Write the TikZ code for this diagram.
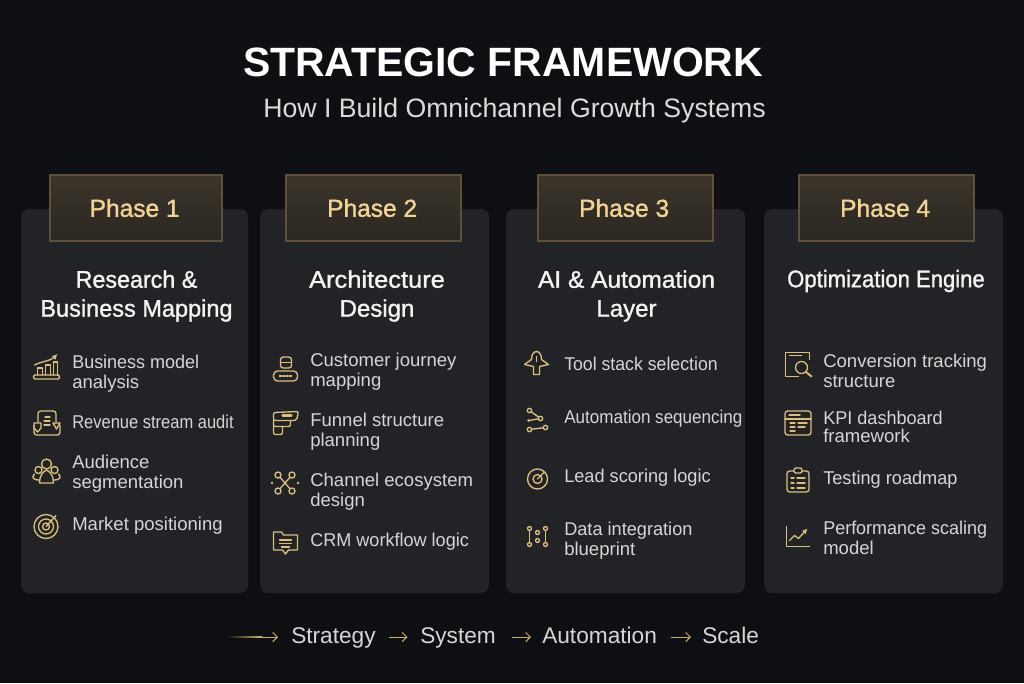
\documentclass[tikz,border=0pt]{standalone}
\usepackage{fontspec}
\setmainfont{Liberation Sans}
\newfontfamily\headfont[FakeBold=1.3]{Liberation Sans}
\usetikzlibrary{arrows,arrows.meta,positioning,calc}

\definecolor{pagebg}{HTML}{0E0F13}
\definecolor{cardbg}{HTML}{212327}
\definecolor{tabtop}{HTML}{3B3429}
\definecolor{tabbot}{HTML}{2A2823}
\definecolor{tabedge}{HTML}{5F5138}
\definecolor{gold}{HTML}{F2D392}
\definecolor{icongold}{HTML}{DDBF7C}
\definecolor{arrowgold}{HTML}{D2AE6C}
\definecolor{headtext}{HTML}{F3F3F3}
\definecolor{itemtext}{HTML}{D6D6D6}

\newcommand{\squeezed}[2]{{\addfontfeature{FakeStretch=#1}#2}}

\tikzset{
  iconline/.style={draw=icongold,line width=1pt,line cap=round,line join=round},
  card/.style={rectangle,fill=cardbg,rounded corners=6pt,inner sep=0pt},
  phasetab/.style={rectangle,draw=tabedge,line width=1pt,top color=tabtop,bottom color=tabbot,
    text=gold,font=\headfont\fontsize{18.4}{22}\selectfont,inner sep=0pt,minimum height=49.5pt},
  heading/.style={text=headtext,align=center,inner sep=0pt,font=\headfont\fontsize{18}{21.7}\selectfont},
  itemlabel/.style={text=itemtext,align=left,anchor=west,inner sep=0pt,yshift=-1.9pt,
    font=\fontsize{13.9}{15}\selectfont,execute at begin node=\strut,execute at end node=\strut},
  flowlabel/.style={text=itemtext,inner sep=0pt,anchor=west,text height=12.5pt,text depth=3.5pt,font=\fontsize{17}{20}\selectfont},
  flowarrow/.style={draw=arrowgold,line width=0.7pt,-{Straight Barb[length=3.5pt,width=7pt]}},
  bizchart/.pic={
    \draw[iconline,rounded corners=1pt] (-13,9) rectangle (13,13);
    \draw[iconline] (-9,9) -- (-9,2) -- (-4,2) -- (-4,9) (-1,9) -- (-1,-1) -- (4,-1) -- (4,9) (7,9) -- (7,-4) -- (11,-4) -- (11,9);
    \draw[iconline,-{Latex[length=4pt,width=4pt]}] (-12,-1) .. controls (-4,-5) and (4,-5) .. (11,-12);
  },
  auditicon/.pic={
    \draw[iconline,rounded corners=2pt] (-9,-1) -- (-9,-12) -- (9,-12) -- (9,-1);
    \draw[iconline,rounded corners=2pt] (-13,2) -- (-13,12) -- (13,12) -- (13,2);
    \draw[iconline] (-2,-6) -- (3,-6) (-3,-2) -- (3,-2) (-3,2) -- (3,2);
    \draw[iconline] (-13,0) -- (-6,0) -- (-6,5) -- (-9.5,9) -- (-13,5) -- cycle;
    \draw[iconline] (6,0) -- (13,0) -- (9.5,6) -- cycle;
  },
  audienceicon/.pic={
    \draw[iconline] (0,-7) circle[radius=5] (-8,-1) circle[radius=3.5] (8,-1) circle[radius=3.5];
    \draw[iconline] (-7,12) .. controls (-7,5) and (-4,1) .. (0,-1) .. controls (4,1) and (7,5) .. (7,12) -- cycle;
    \draw[iconline] (-7,9) .. controls (-14,9) and (-15,6) .. (-12,3) (7,9) .. controls (14,9) and (15,6) .. (12,3);
  },
  targeticon/.pic={
    \draw[iconline] (0,0) circle[radius=12] (0,0) circle[radius=7.5] (0,0) circle[radius=3.5];
    \draw[iconline] (0,0) -- (10,-11);
  },
  journeyicon/.pic={
    \draw[iconline,rounded corners=2pt] (-5,-12) rectangle (6,-1);
    \draw[iconline] (-5,-6.5) -- (6,-6.5);
    \draw[iconline,rounded corners=3pt] (-12,2) rectangle (12,12);
    \draw[iconline,dash pattern=on 1.5pt off 1pt] (-6,7) -- (6,7);
  },
  funnelicon/.pic={
    \draw[iconline,rounded corners=1.5pt] (-12,-3) -- (-12,-11) -- (13,-12) -- (11,-3) -- cycle;
    \draw[iconline,line width=1.6pt] (-3,-8) -- (6,-8);
    \draw[iconline,rounded corners=1.5pt] (5,-3) -- (5,3) -- (-12,3) -- (-12,-3);
    \draw[iconline,rounded corners=1.5pt] (-3,3) -- (-3,11) -- (-12,11) -- (-12,3);
  },
  channelicon/.pic={
    \draw[iconline] (-7,-8) -- (7,8) (7,-8) -- (-7,8);
    \foreach \ix/\iy in {-7/-8,7/-8,-7/8,7/8}
      \draw[iconline,fill=cardbg] (\ix,\iy) circle[radius=3];
    \fill[icongold] (-13,0) circle[radius=1.3] (13,0) circle[radius=1.3] (0,0) circle[radius=1.3];
  },
  crmicon/.pic={
    \draw[iconline] (-12,-8) -- (-12,-11) -- (-4,-11) -- (-2,-8) -- (12,-8) -- (12,7) -- (3,7) -- (0,11) -- (-3,7) -- (-12,7) -- cycle;
    \draw[iconline] (-6,-3) -- (6,-3) (-6,0.5) -- (6,0.5) (-4,4) -- (4,4);
  },
  toolicon/.pic={
    \draw[iconline] (0,-12) .. controls (-4,-12) and (-5,-7) .. (-5,-4) -- (-12,1) -- (-3,3) -- (-3,11) -- (3,11) -- (3,3) -- (12,1) -- (5,-4) .. controls (5,-7) and (4,-12) .. (0,-12) -- cycle;
    \draw[iconline] (0,-7) -- (0,-2);
  },
  autoicon/.pic={
    \draw[iconline] (-8,-10) -- (3,-2) (-9,0) -- (3,-2) (-8,9) -- (8,7);
    \foreach \ix/\iy in {-8/-10,3/-2,-8/9,8/7}
      \draw[iconline,fill=cardbg] (\ix,\iy) circle[radius=2.2];
    \fill[icongold] (-9,0) circle[radius=1.4];
  },
  leadicon/.pic={
    \draw[iconline] (0,0) circle[radius=10] (0,0) circle[radius=4.5];
    \draw[iconline] (0,0) -- (7,-7);
  },
  dataicon/.pic={
    \draw[iconline] (-8,-8) -- (-8,8) (8,-8) -- (8,8);
    \foreach \ix/\iy in {-8/-8,8/-8,-8/8,8/8,0/-4,0/4}
      \draw[iconline,fill=cardbg] (\ix,\iy) circle[radius=2];
  },
  convicon/.pic={
    \draw[iconline] (0,12) -- (-13,12) -- (-13,-12) -- (11,-12) -- (11,-5);
    \draw[iconline] (-9,-9) -- (3,-9);
    \draw[iconline] (3,3) circle[radius=6];
    \draw[iconline,line width=1.4pt] (7.5,7.5) -- (13,12);
  },
  kpiicon/.pic={
    \draw[iconline,rounded corners=2pt] (-13,-12) rectangle (13,12);
    \draw[iconline] (-9,-8) -- (2,-8) (-13,-4) -- (13,-4);
    \draw[iconline] (-8,0) -- (-3,0) (0,0) -- (9,0) (-8,4) -- (-3,4) (0,4) -- (7,4) (-8,8) -- (-3,8);
  },
  testicon/.pic={
    \draw[iconline,rounded corners=2pt] (-11,-9) rectangle (11,12);
    \draw[iconline,fill=cardbg,rounded corners=1.5pt] (-4,-12) rectangle (4,-7);
    \foreach \iy in {-2,3,8}
      \draw[iconline] (-7,\iy) -- (-4,\iy) (-1,\iy) -- (7,\iy);
  },
  perficon/.pic={
    \draw[iconline] (-11,-10) -- (-11,10) -- (12,10);
    \draw[iconline,-{Latex[length=4pt,width=4pt]}] (-8,4) -- (-3,-1) -- (1,2) -- (10,-8);
  }
}

\begin{document}
\begin{tikzpicture}[x=0.75pt,y=-0.75pt]
  \fill[pagebg] (0,0) rectangle (1024,683);
  \useasboundingbox (0,0) rectangle (1024,683);

  \node [text=white,font=\bfseries\fontsize{30.7}{36}\selectfont,inner sep=0pt] (title) at (503,62) {STRATEGIC FRAMEWORK};
  \node [text=headtext!90!black,font=\fontsize{20}{24}\selectfont,inner sep=0pt] (subtitle) at (514.5,111) {How I Build Omnichannel Growth Systems};

  % cards with their phase tabs
  \foreach \n/\cx/\cw/\tx/\tw in {1/134.5/227/136/172, 2/374.5/229/373.5/175, 3/625.5/239/625.5/175, 4/883.5/239/886.5/175} {
    \node [card,minimum width=\cw*0.75pt,minimum height=288pt] (card\n) at (\cx,401) {};
    \node [phasetab,minimum width=\tw*0.75pt] (tab\n) at (\tx,208) {\hspace*{-2pt}Phase \n};
  }

  \node [heading] (head1) at (136.5,296) {\squeezed{0.97}{Research \&}\\\squeezed{0.98}{Business Mapping}};
  \node [heading] (head2) at (377,296) {\squeezed{1.06}{Architecture}\\Design};
  \node [heading] (head3) at (626.5,296) {\squeezed{1.02}{AI \& Automation}\\Layer};
  \node [heading] (head4) at (886,281) {\squeezed{0.92}{Optimization Engine}};

  % phase 1
  \node [itemlabel] (item11) at (72,372) {\squeezed{0.97}{Business model}\\analysis};
  \node [itemlabel] (item12) at (72,421.5) {\squeezed{0.89}{Revenue stream audit}};
  \node [itemlabel] (item13) at (72,472.5) {Audience\\segmentation};
  \node [itemlabel] (item14) at (72,524) {Market positioning};
  \pic at (46.5,366) {bizchart};
  \pic at (47,423) {auditicon};
  \pic at (46.5,471) {audienceicon};
  \pic at (46,526.5) {targeticon};

  % phase 2
  \node [itemlabel] (item21) at (310,370) {Customer journey\\mapping};
  \node [itemlabel] (item22) at (310,430) {Funnel structure\\planning};
  \node [itemlabel] (item23) at (310,490) {Channel ecosystem\\design};
  \node [itemlabel] (item24) at (310,540) {\squeezed{0.975}{CRM workflow logic}};
  \pic at (285.5,369) {journeyicon};
  \pic at (285.5,423.5) {funnelicon};
  \pic at (285,483) {channelicon};
  \pic at (285.5,543) {crmicon};

  % phase 3
  \node [itemlabel] (item31) at (564,364) {\squeezed{0.955}{Tool stack selection}};
  \node [itemlabel] (item32) at (564,417) {\squeezed{0.92}{Automation sequencing}};
  \node [itemlabel] (item33) at (564,476) {\squeezed{0.98}{Lead scoring logic}};
  \node [itemlabel] (item34) at (564,539.5) {\squeezed{0.98}{Data integration}\\blueprint};
  \pic at (536.5,363.5) {toolicon};
  \pic at (537.5,420.5) {autoicon};
  \pic at (537.5,479) {leadicon};
  \pic at (537.5,536.5) {dataicon};

  % phase 4
  \node [itemlabel] (item41) at (823,371) {Conversion tracking\\structure};
  \node [itemlabel] (item42) at (823,427) {\squeezed{0.975}{KPI dashboard}\\[-1.5pt]framework};
  \node [itemlabel] (item43) at (823,478) {\squeezed{0.98}{Testing roadmap}};
  \node [itemlabel] (item44) at (823,538.5) {\squeezed{0.97}{Performance scaling}\\model};
  \pic at (798.5,364.5) {convicon};
  \pic at (798,423) {kpiicon};
  \pic at (798,480) {testicon};
  \pic at (797.5,536.5) {perficon};

  % bottom flow
  \node [flowlabel] (strategy) at (291,637) {Strategy};
  \node [flowlabel] (system) at (420,637) {System};
  \node [flowlabel] (automation) at (542,637) {Automation};
  \node [flowlabel] (scale) at (702,637) {Scale};
  \coordinate (tail) at (227,637);
  \coordinate (tailend) at (262,637);
  \shade [left color=pagebg,right color=arrowgold] (tail) ++(0,-0.5) rectangle ($(tailend)+(0,0.5)$);
  \draw [flowarrow,shorten >=13*0.75pt] (tailend) -- (strategy.west);
  \draw [flowarrow,shorten <=13*0.75pt,shorten >=12.5*0.75pt] (strategy.east) -- (system.west);
  \draw [flowarrow,shorten <=16*0.75pt,shorten >=11*0.75pt] (system.east) -- (automation.west);
  \draw [flowarrow,shorten <=14*0.75pt,shorten >=11*0.75pt] (automation.east) -- (scale.west);
\end{tikzpicture}
\end{document}
